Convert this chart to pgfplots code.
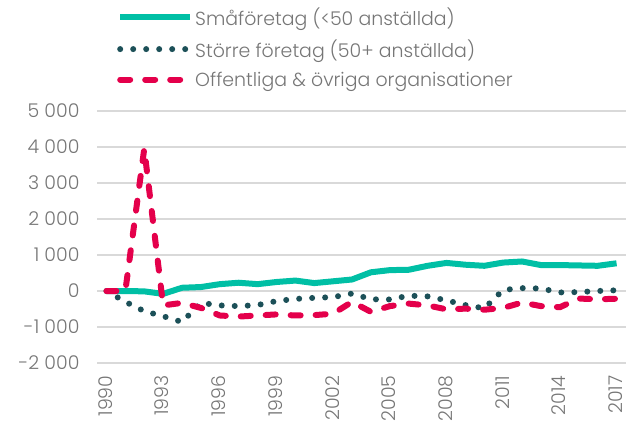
\documentclass[border=0pt]{standalone}
\usepackage{pgfplots}
\pgfplotsset{compat=1.18}
\usepackage{fontspec}
\setmainfont{Poppins Light}
\definecolor{teal1}{RGB}{0,191,165}
\definecolor{dark1}{RGB}{28,80,88}
\definecolor{red1}{RGB}{228,0,75}
\definecolor{txt}{RGB}{118,118,118}
\definecolor{grid1}{RGB}{217,217,217}
\begin{document}
\begin{tikzpicture}[x=1bp,y=1bp]
\path[use as bounding box] (0,0) rectangle (635,425);
\begin{axis}[
  at={(97bp,62bp)}, anchor=south west,
  scale only axis, width=529bp, height=252bp,
  xmin=1989.5, xmax=2017.5, ymin=-2000, ymax=5000,
  axis line style={draw=none},
  major tick length=0pt,
  ymajorgrids, grid style={grid1, line width=1.3bp},
  xtick={1990,1993,...,2017},
  ytick={-2000,-1000,...,5000},
  scaled y ticks=false,
  /pgf/number format/assume math mode=true,
  x tick label style={yshift=-9bp, xshift=-1bp, rotate=90, anchor=east, /pgf/number format/1000 sep={}},
  y tick label style={xshift=-14bp, /pgf/number format/1000 sep={\ }},
  tick label style={font=\fontsize{19}{22}\selectfont, text=txt},
  legend style={at={(0.0378,1.42)}, anchor=north west, draw=none, fill=none,
    inner sep=0pt, row sep=9bp, font=\fontsize{19}{22}\selectfont, text=txt,
    cells={anchor=west}},
  legend cell align=left,
  legend image code/.code={\draw[#1] (0bp,0bp) -- (70bp,0bp);},
]
\addplot[teal1, line width=6bp, line join=round] coordinates {
(1990,0) (1991,0) (1992,-10) (1993,-80) (1994,90) (1995,110) (1996,190) (1997,230)
(1998,190) (1999,250) (2000,290) (2001,220) (2002,270) (2003,320) (2004,520)
(2005,580) (2006,590) (2007,700) (2008,780) (2009,730) (2010,700) (2011,790)
(2012,820) (2013,720) (2014,720) (2015,710) (2016,700) (2017,770)};
\addlegendentry{Småföretag (<50 anställda)}
\addplot[dark1, line width=6bp, line cap=round, dash pattern=on 0bp off 13bp] coordinates {
(1990,0) (1991,-300) (1992,-560) (1993,-700) (1994,-860) (1995,-330) (1996,-400)
(1997,-420) (1998,-390) (1999,-280) (2000,-220) (2001,-190) (2002,-170) (2003,-70)
(2004,-230) (2005,-235) (2006,-130) (2007,-150) (2008,-260) (2009,-390) (2010,-480)
(2011,30) (2012,80) (2013,70) (2014,-40) (2015,-30) (2016,0) (2017,20)};
\addlegendentry{Större företag (50+ anställda)}
\addplot[red1, line width=6bp, line cap=round, line join=round, dash pattern=on 10bp off 15bp] coordinates {
(1990,0) (1991,0) (1992,3950) (1993,-400) (1994,-330) (1995,-470) (1996,-680)
(1997,-710) (1998,-680) (1999,-650) (2000,-680) (2001,-670) (2002,-630) (2003,-300)
(2004,-580) (2005,-420) (2006,-350) (2007,-400) (2008,-510) (2009,-490) (2010,-520)
(2011,-470) (2012,-320) (2013,-420) (2014,-450) (2015,-210) (2016,-230) (2017,-215)};
\addlegendentry{Offentliga \& övriga organisationer}
\end{axis}
\end{tikzpicture}
\end{document}
